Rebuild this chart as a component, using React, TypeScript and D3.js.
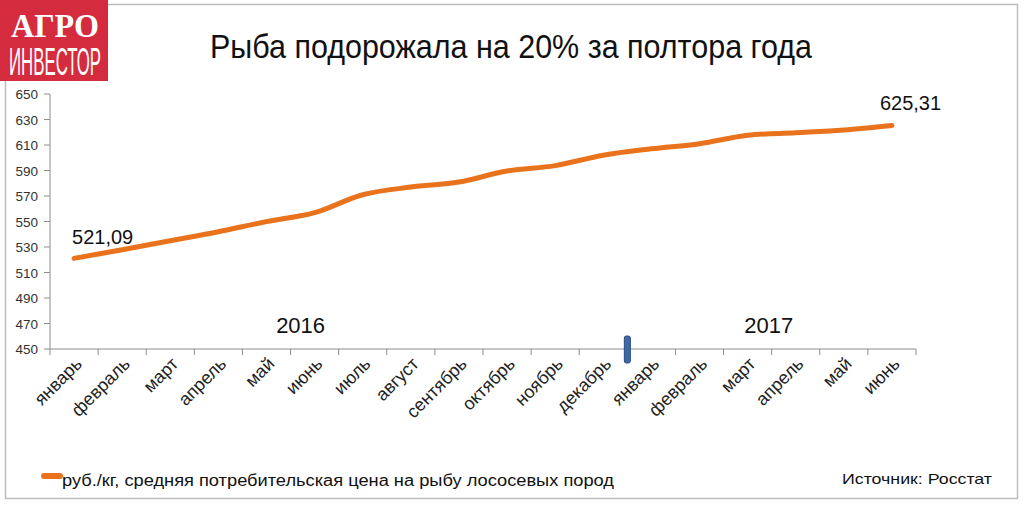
import React from "react";
import * as d3 from "d3";

const months = [
  "январь", "февраль", "март", "апрель", "май", "июнь", "июль", "август", "сентябрь",
  "октябрь", "ноябрь", "декабрь", "январь", "февраль", "март", "апрель", "май", "июнь",
];
const prices = [
  521.09, 527.8, 534.9, 542.0, 549.9, 556.9, 571.0, 577.0, 581.0,
  589.6, 593.8, 602.0, 607.0, 611.0, 617.6, 619.6, 621.8, 625.31,
];
const yTicks = [450, 470, 490, 510, 530, 550, 570, 590, 610, 630, 650];
const years = ["2016", "2017"];
const title = "Рыба подорожала на 20% за полтора года";
const legendText = "руб./кг, средняя потребительская цена на рыбу лососевых пород";
const sourceText = "Источник: Росстат";

const W = 1024, H = 506;
const left = 50, right = 916, top = 94, bottom = 349;
const font = "'Liberation Sans', Arial, sans-serif";
const orange = "#E8731C";

export default function App() {
  const x = d3.scaleBand<number>().domain(d3.range(months.length)).range([left, right]);
  const y = d3.scaleLinear().domain([450, 650]).range([bottom, top]);
  const cx = (i: number) => (x(i) as number) + x.bandwidth() / 2;
  const line = d3.line<number>().x((_, i) => cx(i)).y((d) => y(d)).curve(d3.curveCatmullRom.alpha(0.5));
  const last = prices.length - 1;
  const ticksX = d3.range(months.length + 1).map((i) => left + i * x.bandwidth());
  return (
    <svg width={W} height={H} style={{ position: "absolute", left: 0, top: 0 }} fontFamily={font}>
      <rect x={0} y={0} width={W} height={H} fill="#fff" />
      <rect x={5.5} y={4.5} width={1012} height={494} fill="none" stroke="#bdbdbd" strokeWidth={1.5} />
      {/* logo */}
      <rect x={0} y={0} width={108} height={81} fill="#D52B3E" />
      <text x={55} y={37} textAnchor="middle" fill="#fff" fontFamily="'Liberation Serif', 'DejaVu Serif', serif" fontWeight="bold" fontSize={34} textLength={88} lengthAdjust="spacingAndGlyphs">АГРО</text>
      <text x={55} y={75} textAnchor="middle" fill="#fff" fontFamily="'Liberation Sans Narrow', 'Liberation Sans', sans-serif" fontSize={38} textLength={92} lengthAdjust="spacingAndGlyphs">ИНВЕСТОР</text>
      {/* title */}
      <text x={511} y={58} textAnchor="middle" fontSize={33} fill="#111" textLength={602} lengthAdjust="spacingAndGlyphs">{title}</text>
      {/* y axis */}
      <line x1={left} x2={left} y1={top} y2={bottom} stroke="#8c8c8c" />
      {yTicks.map((t) => (
        <g key={t}>
          <line x1={left - 6} x2={left} y1={y(t)} y2={y(t)} stroke="#8c8c8c" />
          <text x={38} y={y(t) + 5} textAnchor="end" fontSize={13.5} fill="#333">{t}</text>
        </g>
      ))}
      {/* x axis */}
      <line x1={left} x2={right} y1={bottom} y2={bottom} stroke="#8c8c8c" />
      {ticksX.map((t, i) => (
        <line key={i} x1={t} x2={t} y1={bottom} y2={bottom + 6} stroke="#8c8c8c" />
      ))}
      {months.map((m, i) => (
        <text key={i} transform={`translate(${cx(i) + 9},${365}) rotate(-45)`} textAnchor="end" fontSize={18} fill="#222">{m}</text>
      ))}
      {/* year labels */}
      <text x={cx(5) - 14} y={333} textAnchor="middle" fontSize={22} fill="#111">{years[0]}</text>
      <text x={cx(15) - 27} y={333} textAnchor="middle" fontSize={22} fill="#111">{years[1]}</text>
      {/* year separator marker */}
      <rect x={x(12) as number - 3} y={336} width={6} height={27} rx={2} fill="#3F68A8" stroke="#2A4A80" strokeWidth={1} />
      {/* line */}
      <path d={line(prices) || ""} fill="none" stroke={orange} strokeWidth={5} strokeLinecap="round" strokeLinejoin="round" />
      <text x={cx(0) - 2} y={244} fontSize={20} fill="#111">{prices[0].toFixed(2).replace(".", ",")}</text>
      <text x={cx(last) - 12} y={110} fontSize={20} fill="#111">{prices[last].toFixed(2).replace(".", ",")}</text>
      {/* legend */}
      <line x1={44} x2={60} y1={476} y2={476} stroke={orange} strokeWidth={6} strokeLinecap="round" />
      <text x={62} y={486} fontSize={16} fill="#111" textLength={552} lengthAdjust="spacingAndGlyphs">{legendText}</text>
      <text x={992} y={484} textAnchor="end" fontSize={15} fill="#111" textLength={150} lengthAdjust="spacingAndGlyphs">{sourceText}</text>
    </svg>
  );
}
